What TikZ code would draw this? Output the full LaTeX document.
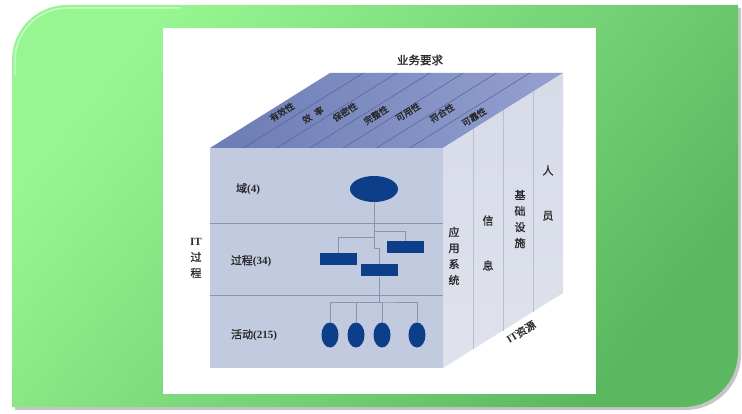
\documentclass[tikz,border=0pt]{standalone}
\usepackage{fontspec}
\setmainfont{Liberation Serif}
\newfontfamily\cjk[FakeBold=1.2]{Noto Sans CJK SC}
\usetikzlibrary{shapes.geometric}
\definecolor{greenL}{RGB}{152,246,146}
\definecolor{greenD}{RGB}{92,184,96}
\definecolor{frontc}{RGB}{194,202,224}
\definecolor{rightc}{RGB}{215,219,232}
\definecolor{topA}{RGB}{110,126,182}
\definecolor{topB}{RGB}{146,158,206}
\definecolor{darkblue}{RGB}{12,62,138}
\definecolor{linec}{RGB}{140,148,172}
\definecolor{stripc}{RGB}{84,98,150}
\definecolor{txt}{RGB}{40,40,40}
\tikzset{
  lbl/.style={text=txt, inner sep=0pt, font=\cjk\fontsize{11}{13}\selectfont},
  toplbl/.style={text=txt, inner sep=0pt, rotate=32, font=\cjk\fontsize{9}{11}\selectfont},
  vlbl/.style={text=txt, inner sep=0pt, align=center, font=\cjk\fontsize{11}{16}\selectfont},
  proc/.style={rectangle, fill=darkblue, minimum width=37pt, minimum height=12pt, inner sep=0pt},
  act/.style={ellipse, fill=darkblue, minimum width=17pt, minimum height=25pt, inner sep=0pt},
  tree/.style={draw=linec, line width=0.7pt},
}
\begin{document}
\begin{tikzpicture}[x=1pt,y=-1pt]
\useasboundingbox (0,0) rectangle (742,414);
% background green panel with shadow
\fill[black!45, opacity=0.5] (15,62) .. controls (15,32) and (39,8) .. (70,8) -- (741,8) -- (741,355) .. controls (741,385) and (716,410) .. (686,410) -- (15,410) -- cycle;
\shade[top color=greenL, bottom color=greenD, shading angle=50]
  (12,60) .. controls (12,29.6) and (36.6,5) .. (67,5) -- (738,5) -- (738,352)
  .. controls (738,382.4) and (713.4,407) .. (683,407) -- (12,407) -- cycle;
\draw[white, opacity=0.45, line width=1.5pt] (15,75) -- (15,60) .. controls (15,32) and (38,8) .. (67,8) -- (180,8);
% white panel
\fill[white] (163,28) rectangle (596,394);
% cube
\coordinate (F1) at (210,148);
\coordinate (F2) at (443,148);
\coordinate (F3) at (443,368);
\coordinate (F4) at (210,368);
\coordinate (B1) at (330,73);
\coordinate (B2) at (563,73);
\coordinate (B3) at (563,293);
\shade[left color=topA, right color=topB, shading angle=100] (F1) -- (F2) -- (B2) -- (B1) -- cycle;
\foreach \i in {1,...,6} {
  \draw[stripc, line width=0.5pt] (210+\i*33.29,148) -- (330+\i*33.29,73);
}
\shade[top color=rightc, bottom color=rightc!80!white] (F2) -- (B2) -- (B3) -- (F3) -- cycle;
\foreach \x in {473,503,533} {
  \draw[linec!60!white, line width=0.5pt] (\x,{148-(\x-443)*0.625}) -- (\x,{368-(\x-443)*0.625});
}
\fill[frontc] (F1) rectangle (F3);
\draw[linec, line width=0.6pt] (210,223) -- (443,223);
\draw[linec, line width=0.6pt] (210,295) -- (443,295);
% top labels
\node[lbl, font=\cjk\fontsize{11.5}{13}\selectfont] (req) at (420,60) {业务要求};
\node[toplbl] (t1) at (282,112) {有效性};
\node[toplbl] (t2) at (313,115) {效\hspace{5pt}率};
\node[toplbl] (t3) at (345,112) {保密性};
\node[toplbl] (t4) at (376,115) {完整性};
\node[toplbl] (t5) at (408,112) {可用性};
\node[toplbl] (t6) at (442,113) {符合性};
\node[toplbl] (t7) at (474,117) {可靠性};
% left label
\node[vlbl] (itp) at (196,258) {\textbf{\rmfamily IT}\\过\\程};
% front labels
\node[lbl] (l1) at (248,189) {域\textbf{\rmfamily (4)}};
\node[lbl] (l2) at (251,261) {过程\textbf{\rmfamily (34)}};
\node[lbl] (l3) at (254,335) {活动\textbf{\rmfamily (215)}};
% right labels
\node[vlbl] (r1) at (454,256) {应\\用\\系\\统};
\node[vlbl] (r2) at (488,243) {信\\[29pt]息};
\node[vlbl] (r3) at (520,219) {基\\础\\设\\施};
\node[vlbl] (r4) at (548,193) {人\\[29pt]员};
\node[lbl, rotate=32, font=\cjk\fontsize{10.5}{12}\selectfont] (res) at (521,332) {\textbf{\rmfamily IT}资源};
% tree
\node[ellipse, fill=darkblue, minimum width=48pt, minimum height=26pt, inner sep=0pt] (dom) at (374,189) {};
\node[proc] (p1) at (338.5,259.5) {};
\node[proc] (p3) at (405,247.5) {};
\node[proc] (p2) at (379,270.5) {};
\node[act] (a1) at (330,335) {};
\node[act] (a2) at (356,335) {};
\node[act] (a3) at (382,335) {};
\node[act] (a4) at (417,335) {};
\coordinate (j1) at (374,231);
\coordinate (j2) at (374,237);
\coordinate (j3) at (379,248);
\coordinate (j4) at (379,302);
\draw[tree] (dom.south) -- (j1) -| (p3.north);
\draw[tree] (j1) -- (j2) -| (p1.north);
\draw[tree] (j2) |- (j3) -- (p2.north);
\draw[tree] (p2.south) -- (j4);
\draw[tree] (a1.north) |- (j4) -| (a4.north);
\draw[tree] (a2.north) |- (j4);
\draw[tree] (a3.north) |- (j4);
\end{tikzpicture}
\end{document}
